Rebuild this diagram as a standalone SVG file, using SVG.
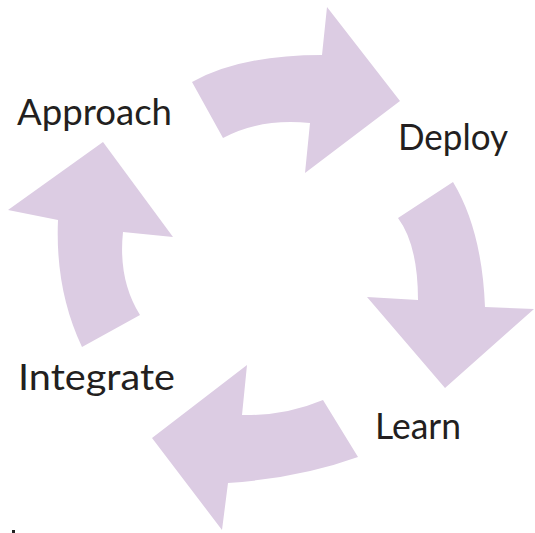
<svg xmlns="http://www.w3.org/2000/svg" width="535" height="533" viewBox="0 0 535 533">
<style>
.arrow{fill:#dccce3;stroke:none}
.lbl{font-family:Lato,"Liberation Sans",sans-serif;font-size:36px;fill:#231f20}
</style>
<rect width="535" height="533" fill="#ffffff"/>
<g id="connectors">
<path id="arrow-approach-deploy" class="arrow" d="M192,82 Q240,55 322,55 L327,7 L400,101 L305,173 L310,123 Q260,118 223,138 Z"/>
<path id="arrow-deploy-learn" class="arrow" d="M453,182 Q482,230 485,307 L534,309 L445,388 L367,297 L418,300 Q418,245 398,218 Z"/>
<path id="arrow-learn-integrate" class="arrow" d="M323,400 Q285,416 242,415 L247,365 L152,438 L222,530 L228,483 Q300,478 358,457 Z"/>
<path id="arrow-integrate-approach" class="arrow" d="M82,347 Q55,290 58,220 L8,210 L103,142 L173,237 L123,232 Q118,280 140,315 Z"/>
</g>
<g id="node-approach"><text class="lbl" x="17" y="125" textLength="155" lengthAdjust="spacingAndGlyphs">Approach</text></g>
<g id="node-deploy"><text class="lbl" x="398" y="150" textLength="110" lengthAdjust="spacingAndGlyphs">Deploy</text></g>
<g id="node-learn"><text class="lbl" x="375" y="439" textLength="86" lengthAdjust="spacingAndGlyphs">Learn</text></g>
<g id="node-integrate"><text class="lbl" x="18" y="390" textLength="157" lengthAdjust="spacingAndGlyphs">Integrate</text></g>
<rect x="12" y="530" width="3" height="3" fill="#222"/>
</svg>
